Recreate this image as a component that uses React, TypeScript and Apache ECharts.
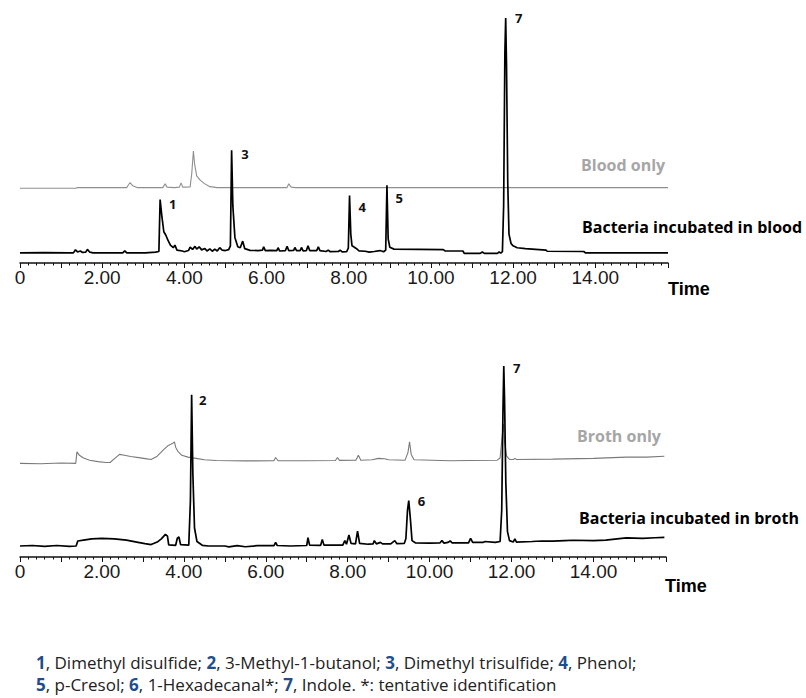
import React, { useEffect, useRef } from "react";
import * as echarts from "echarts";

// ---- Data (retention time in min, intensity in % of the indole peak) ----
const X_MAX = 15.77;
const X_LABEL_VALUES = [0, 2, 4, 6, 8, 10, 12, 14];
const X_LABEL_TEXTS = ["0", "2.00", "4.00", "6.00", "8.00", "10.00", "12.00", "14.00"];

// Top panel: bacteria incubated in blood
const BLOOD_BACTERIA: number[][] = [
  [0, 0], [0.6, 0.1], [1.2, 0], [1.3, 0], [1.35, 1.3], [1.4, 0.4], [1.47, 0.8], [1.52, 0.2], [1.6, 0.3], [1.64, 1.5], [1.7, 0.3], [1.78, 0],
  [2.5, 0], [2.55, 0.9], [2.6, 0],
  [3.05, 0], [3.3, 0.3], [3.38, 0.6], [3.41, 22.7], [3.45, 16], [3.5, 9], [3.55, 7.5], [3.6, 5.4], [3.66, 3.3], [3.73, 2.2], [3.77, 3.3], [3.82, 1.2],
  [3.95, 0.8], [4.0, 0.5], [4.1, 1], [4.14, 2.5], [4.2, 1.5], [4.26, 2.8], [4.3, 1.6], [4.36, 2.6], [4.42, 1.3], [4.5, 1.9], [4.55, 0.8], [4.62, 1.7],
  [4.68, 0.7], [4.74, 1.6], [4.8, 0.8], [4.86, 2.2], [4.92, 1.2], [5.0, 1], [5.08, 1.4], [5.12, 3], [5.15, 43.7], [5.18, 20], [5.23, 6.6], [5.3, 2.6],
  [5.36, 2.2], [5.42, 5], [5.47, 1.8], [5.6, 1.1], [5.8, 1], [5.9, 1.2], [5.93, 2.6], [5.97, 1], [6.1, 1.1], [6.25, 1], [6.28, 2.2], [6.32, 0.8],
  [6.46, 1], [6.5, 2.8], [6.54, 1], [6.66, 1.1], [6.69, 2.3], [6.73, 1], [6.82, 1], [6.85, 2.3], [6.89, 0.9], [6.97, 1], [7.01, 3], [7.05, 1],
  [7.22, 1], [7.26, 2.6], [7.3, 1], [7.45, 0.6], [7.5, 1.2], [7.55, 0.5], [7.75, 0.6], [7.79, 1.2], [7.84, 0.4], [7.95, 0.5], [7.99, 2],
  [8.02, 24.4], [8.05, 8], [8.08, 3], [8.12, 2.6], [8.19, 1.8], [8.25, 0.9], [8.4, 0.7], [8.5, 0.3], [8.62, 0.6], [8.76, 1], [8.85, 0.5], [8.9, 1.2],
  [8.93, 28.8], [8.96, 6], [9.0, 2.4], [9.1, 1.6], [10.3, 1.4], [10.35, 0.8], [10.78, 0.8], [10.81, -0.2], [11.2, -0.2], [11.25, 0.4], [11.3, -0.2],
  [11.62, -0.2], [11.66, 0.4], [11.7, -0.1], [11.74, 0.5], [11.77, 20], [11.8, 85], [11.82, 100], [11.84, 80], [11.87, 30], [11.9, 8], [11.95, 4],
  [12.0, 3], [12.1, 2.2], [12.3, 1.8], [12.8, 1.2], [12.83, 0.7], [13.72, 0.6], [13.76, 0], [15.77, 0],
];

// Top panel: blood only (intensity above its own baseline)
const BLOOD_ONLY: number[][] = [
  [0, -0.3], [1.36, -0.3], [1.4, 0], [2.6, 0], [2.64, 1.2], [2.68, 2.1], [2.74, 0.8], [2.85, 0], [3.48, 0], [3.53, 1.6], [3.58, 0.2],
  [3.75, 0], [3.88, 0.2], [3.92, 2], [3.96, 0.2], [4.14, 0.3], [4.18, 6], [4.22, 15.6], [4.25, 10], [4.3, 5], [4.38, 3.3], [4.48, 1.8],
  [4.62, 0.4], [4.8, 0], [6.5, 0], [6.54, 1.6], [6.6, 0.2], [6.7, 0], [15.77, 0],
];

// Bottom panel: bacteria incubated in broth
const BROTH_BACTERIA: number[][] = [
  [0, 0], [0.3, 0.3], [0.6, -0.2], [0.9, 0.3], [1.2, -0.2], [1.37, 0], [1.41, 2.8], [1.55, 3.3], [1.75, 4], [2.0, 4.3], [2.3, 4], [2.6, 3.3],
  [2.85, 2.2], [3.05, 1.3], [3.2, 0.8], [3.35, 2.2], [3.45, 4], [3.55, 6.5], [3.6, 5.5], [3.63, 0.6], [3.8, 0.4], [3.84, 4.3], [3.88, 5],
  [3.92, 0.8], [4.12, 0.5], [4.16, 25], [4.19, 84], [4.22, 40], [4.26, 10], [4.32, 2.5], [4.45, 0.4], [4.6, 0], [5.0, 0], [5.1, -0.5],
  [5.3, 0.2], [5.5, -0.4], [5.8, 0.2], [6.2, 0.2], [6.24, 2], [6.28, 0.3], [6.6, 0], [7.0, 0.3], [7.03, 4.6], [7.07, 0.5], [7.34, 0.4],
  [7.38, 3.7], [7.42, 0.5], [7.88, 0.5], [7.93, 3], [7.97, 1], [8.03, 6.1], [8.08, 1.5], [8.19, 1.2], [8.24, 8.3], [8.29, 1.5], [8.5, 1],
  [8.62, 1.2], [8.65, 3], [8.7, 1.2], [8.8, 2], [8.85, 1.2], [9.05, 1.2], [9.15, 3], [9.2, 1.3], [9.38, 1.4], [9.42, 4], [9.46, 20],
  [9.49, 25.3], [9.53, 15], [9.57, 3], [9.65, 1.8], [10.0, 1.6], [10.25, 1.7], [10.3, 3], [10.35, 1.6], [10.45, 2], [10.5, 2.8], [10.55, 1.7],
  [10.95, 1.8], [11.0, 4.3], [11.05, 2], [11.3, 2], [11.35, 2.5], [11.6, 2], [11.72, 2.5], [11.76, 20], [11.79, 75], [11.81, 100], [11.83, 80],
  [11.86, 35], [11.9, 8], [11.95, 3], [12.04, 2.2], [12.08, 4], [12.12, 2.2], [12.5, 2.5], [12.73, 2.8], [13.0, 2.7], [13.3, 3], [13.5, 3.2],
  [14.0, 3], [14.3, 3.3], [14.8, 4.5], [15.2, 4.3], [15.5, 4.6], [15.73, 4.8],
];

// Bottom panel: broth only (intensity above its own baseline)
const BROTH_ONLY: number[][] = [
  [0, 0], [0.5, -0.2], [1.0, 0.2], [1.36, 0], [1.39, 6.4], [1.45, 4.5], [1.55, 3], [1.7, 1.8], [1.9, 1], [2.1, 0.5], [2.2, 0.5], [2.3, 2.5],
  [2.43, 5], [2.55, 4.5], [2.7, 3.8], [2.9, 3.2], [3.1, 2.5], [3.2, 2.2], [3.35, 4], [3.5, 7.5], [3.62, 10], [3.72, 11], [3.77, 12], [3.8, 9],
  [3.86, 6.5], [3.95, 4.5], [4.1, 3.5], [4.3, 2.8], [4.5, 2], [4.8, 1.6], [5.5, 1.4], [6.2, 1.5], [6.24, 3.3], [6.3, 1.5], [7.0, 1.5],
  [7.7, 1.6], [7.75, 3.3], [7.8, 1.7], [8.2, 1.8], [8.26, 4.6], [8.32, 1.8], [8.6, 2], [8.75, 2.8], [8.9, 2.6], [9.0, 2], [9.4, 1.8],
  [9.47, 6], [9.51, 12], [9.55, 5], [9.62, 2], [10.5, 1.5], [11.0, 1.6], [11.65, 1.8], [11.72, 3], [11.77, 15], [11.8, 22], [11.83, 12],
  [11.88, 4], [11.95, 2.2], [12.04, 2.2], [12.08, 2.8], [12.12, 2.2], [13, 2.4], [14, 2.8], [14.8, 3.5], [15.3, 3.5], [15.73, 4],
];

// Peak annotations: [number, retention time, intensity]
const PEAKS_BLOOD: [string, number, number][] = [
  ["1", 3.41, 22.7], ["3", 5.15, 43.7], ["4", 8.02, 24.4], ["5", 8.93, 28.8], ["7", 11.82, 100],
];
const PEAKS_BROTH: [string, number, number][] = [
  ["2", 4.19, 84], ["6", 9.49, 25.3], ["7", 11.81, 100],
];

const TRACE_NAMES = ["Blood only", "Bacteria incubated in blood", "Broth only", "Bacteria incubated in broth"];
const COMPOUNDS = [
  ["1", "Dimethyl disulfide"], ["2", "3-Methyl-1-butanol"], ["3", "Dimethyl trisulfide"], ["4", "Phenol"],
  ["5", "p-Cresol"], ["6", "1-Hexadecanal*"], ["7", "Indole"],
];

// ---- Layout / style ----
const BLOOD_OFFSET = 27.8; // vertical stacking offset of the control trace
const BROTH_OFFSET = 45.9;
const LABEL_OFFSETS: Record<string, number[]> = {
  "t1": [12.6, 4.7], "t3": [13.3, 3.3], "t4": [12.7, 11], "t5": [12.3, 13], "t7": [13, 0],
  "b2": [11, 5], "b6": [12.7, 1], "b7": [13, 2],
};
const TICK_FONT = "'Liberation Sans', Arial, sans-serif";
const LABEL_FONT = "'Open Sans', 'Noto Sans', sans-serif";

function xAxisCfg(gridIndex: number) {
  return {
    type: "value",
    gridIndex,
    min: 0,
    max: X_MAX,
    interval: 1,
    axisLine: { show: true, onZero: false, lineStyle: { color: "#111", width: 1.5 } },
    axisTick: { show: true, length: 5, lineStyle: { color: "#111", width: 1 } },
    minorTick: { show: true, splitNumber: 5, length: 2.5, lineStyle: { color: "#111", width: 1 } },
    splitLine: { show: false },
    minorSplitLine: { show: false },
    axisLabel: {
      margin: 5,
      fontFamily: TICK_FONT,
      fontSize: 19,
      color: "#1a1a1a",
      showMaxLabel: false,
      formatter: (v: number) => {
        const i = X_LABEL_VALUES.findIndex((x) => Math.abs(x - v) < 1e-6);
        return i >= 0 ? X_LABEL_TEXTS[i] : "";
      },
    },
  };
}

function peakMarks(peaks: [string, number, number][], prefix: string) {
  return {
    symbol: "circle",
    symbolSize: 1,
    itemStyle: { color: "rgba(0,0,0,0)" },
    silent: true,
    data: peaks.map(([id, t, v]) => ({
      coord: [t, v],
      name: id,
      label: {
        show: true,
        position: "inside",
        offset: LABEL_OFFSETS[prefix + id],
        formatter: id,
        fontFamily: LABEL_FONT,
        fontWeight: "bold",
        fontSize: 13,
        color: "#111",
      },
    })),
  };
}

function traceLabel(text: string, x: number, y: number, color: string) {
  return {
    type: "text",
    x,
    y,
    style: {
      text,
      fill: color,
      fontFamily: LABEL_FONT,
      fontWeight: "bold",
      fontSize: 16,
      align: "left",
      verticalAlign: "middle",
    },
  };
}

export default function App() {
  const ref = useRef<HTMLDivElement>(null);

  useEffect(() => {
    if (!ref.current) return;
    const chart = echarts.init(ref.current, null, { renderer: "svg" });

    const line1 = COMPOUNDS.slice(0, 4).map(([n, c]) => `{b|${n}}, ${c};`).join(" ");
    const line2 =
      COMPOUNDS.slice(4, 6).map(([n, c]) => `{b|${n}}, ${c};`).join(" ") +
      ` {b|${COMPOUNDS[6][0]}}, ${COMPOUNDS[6][1]}. *: tentative identification`;

    const FOOT_SIZE = 17;
    const option: any = {
      animation: false,
      backgroundColor: "#ffffff",
      grid: [
        { left: 20, top: 10, width: 648, height: 253, containLabel: false, outerBoundsMode: "none" },
        { left: 20, top: 300, width: 646, height: 257, containLabel: false, outerBoundsMode: "none" },
      ],
      xAxis: [xAxisCfg(0), xAxisCfg(1)],
      yAxis: [
        { type: "value", gridIndex: 0, min: -4.3, max: 103.4, show: false, splitLine: { show: false } },
        { type: "value", gridIndex: 1, min: -6.1, max: 136.7, show: false, splitLine: { show: false } },
      ],
      series: [
        {
          type: "line", name: TRACE_NAMES[0], xAxisIndex: 0, yAxisIndex: 0,
          data: BLOOD_ONLY.map(([t, v]) => [t, v + BLOOD_OFFSET]),
          symbol: "none", lineStyle: { color: "#8f8f8f", width: 1.1 }, z: 2,
        },
        {
          type: "line", name: TRACE_NAMES[1], xAxisIndex: 0, yAxisIndex: 0,
          data: BLOOD_BACTERIA,
          symbol: "none", lineStyle: { color: "#000", width: 1.7 }, z: 3,
          markPoint: peakMarks(PEAKS_BLOOD, "t"),
        },
        {
          type: "line", name: TRACE_NAMES[2], xAxisIndex: 1, yAxisIndex: 1,
          data: BROTH_ONLY.map(([t, v]) => [t, v + BROTH_OFFSET]),
          symbol: "none", lineStyle: { color: "#7a7a7a", width: 1.1 }, z: 2,
        },
        {
          type: "line", name: TRACE_NAMES[3], xAxisIndex: 1, yAxisIndex: 1,
          data: BROTH_BACTERIA,
          symbol: "none", lineStyle: { color: "#000", width: 1.7 }, z: 3,
          markPoint: peakMarks(PEAKS_BROTH, "b"),
        },
      ],
      graphic: [
        traceLabel(TRACE_NAMES[0], 581, 165, "#a6a6a6"),
        traceLabel(TRACE_NAMES[1], 582, 227, "#000"),
        traceLabel(TRACE_NAMES[2], 577, 436, "#a6a6a6"),
        traceLabel(TRACE_NAMES[3], 579, 518, "#000"),
        {
          type: "text", x: 668, y: 289,
          style: { text: "Time", fill: "#000", fontFamily: TICK_FONT, fontWeight: "bold", fontSize: 18, align: "left", verticalAlign: "middle" },
        },
        {
          type: "text", x: 665, y: 586,
          style: { text: "Time", fill: "#000", fontFamily: TICK_FONT, fontWeight: "bold", fontSize: 18, align: "left", verticalAlign: "middle" },
        },
        {
          type: "text", x: 36, y: 662,
          style: {
            text: line1, fill: "#222", fontFamily: LABEL_FONT, fontSize: FOOT_SIZE, align: "left", verticalAlign: "middle",
            rich: { b: { fill: "#1f4e8c", fontWeight: "bold", fontFamily: LABEL_FONT, fontSize: FOOT_SIZE } },
          },
        },
        {
          type: "text", x: 36, y: 684,
          style: {
            text: line2, fill: "#222", fontFamily: LABEL_FONT, fontSize: FOOT_SIZE, align: "left", verticalAlign: "middle",
            rich: { b: { fill: "#1f4e8c", fontWeight: "bold", fontFamily: LABEL_FONT, fontSize: FOOT_SIZE } },
          },
        },
      ],
    };

    chart.setOption(option);
    return () => chart.dispose();
  }, []);

  return (
    <div
      ref={ref}
      style={{ position: "fixed", left: 0, top: 0, width: 806, height: 698, background: "#fff" }}
    />
  );
}
